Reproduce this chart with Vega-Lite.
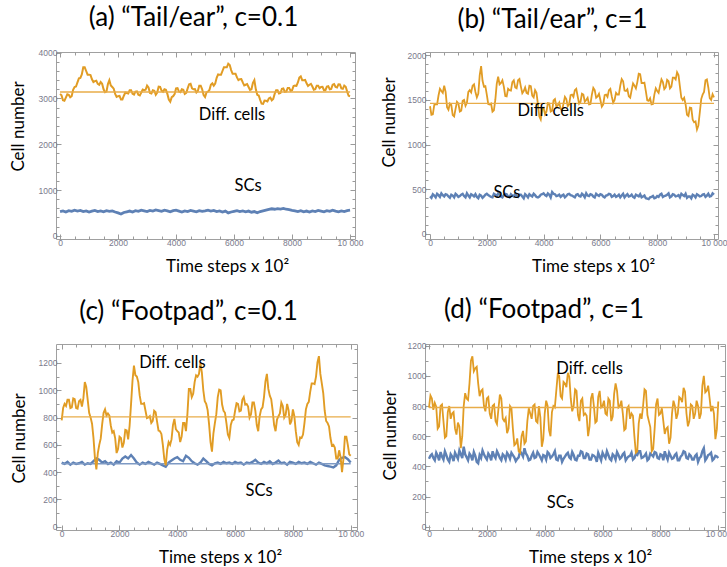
{
"$schema": "https://vega.github.io/schema/vega-lite/v6.json",
"padding": {"left": 8, "top": 4, "right": 0, "bottom": 0},
"background": "white",
"config": {
  "font": "Lato",
  "view": {"stroke": "#a0a0a0", "strokeWidth": 1},
  "axis": {"domain": false, "grid": false, "labelFont": "Liberation Sans", "labelFontSize": 8.5, "labelColor": "#7a7a8c", "labelFlush": false, "tickColor": "#9a9a9a", "tickSize": {"condition": {"test": "datum.value % 2000 === 0", "value": -5}, "value": -3}, "labelPadding": 4, "titleFont": "Lato", "titleFontSize": 17, "titleFontWeight": "normal", "titleColor": "#000", "format": "d"},
  "title": {"font": "Lato", "fontSize": 26, "fontWeight": "normal", "color": "#000", "baseline": "alphabetic"}
},
"datasets": {
"aD": [{"t":0,"v":3100},{"t":100,"v":2960},{"t":200,"v":3020},{"t":300,"v":3080},{"t":400,"v":3050},{"t":500,"v":3250},{"t":600,"v":3350},{"t":700,"v":3450},{"t":800,"v":3680},{"t":900,"v":3600},{"t":1000,"v":3520},{"t":1100,"v":3420},{"t":1200,"v":3380},{"t":1300,"v":3320},{"t":1400,"v":3360},{"t":1500,"v":3200},{"t":1600,"v":3150},{"t":1700,"v":3400},{"t":1800,"v":3250},{"t":1900,"v":3100},{"t":2000,"v":3050},{"t":2100,"v":2980},{"t":2200,"v":3060},{"t":2300,"v":3120},{"t":2400,"v":3180},{"t":2500,"v":3100},{"t":2600,"v":3150},{"t":2700,"v":3080},{"t":2800,"v":3130},{"t":2900,"v":3180},{"t":3000,"v":3280},{"t":3100,"v":3120},{"t":3200,"v":3180},{"t":3300,"v":3080},{"t":3400,"v":3260},{"t":3500,"v":3170},{"t":3600,"v":3200},{"t":3700,"v":3100},{"t":3800,"v":2930},{"t":3900,"v":3050},{"t":4000,"v":3220},{"t":4100,"v":3150},{"t":4200,"v":3200},{"t":4300,"v":3100},{"t":4400,"v":3220},{"t":4500,"v":3320},{"t":4600,"v":3200},{"t":4700,"v":3130},{"t":4800,"v":3280},{"t":4900,"v":3200},{"t":5000,"v":3030},{"t":5100,"v":3150},{"t":5200,"v":3300},{"t":5300,"v":3280},{"t":5400,"v":3450},{"t":5500,"v":3520},{"t":5600,"v":3600},{"t":5700,"v":3680},{"t":5800,"v":3760},{"t":5900,"v":3620},{"t":6000,"v":3540},{"t":6100,"v":3460},{"t":6200,"v":3420},{"t":6300,"v":3350},{"t":6400,"v":3300},{"t":6500,"v":3250},{"t":6600,"v":3200},{"t":6700,"v":3400},{"t":6800,"v":3080},{"t":6900,"v":2970},{"t":7000,"v":2880},{"t":7100,"v":2950},{"t":7200,"v":3000},{"t":7300,"v":2960},{"t":7400,"v":3100},{"t":7500,"v":3180},{"t":7600,"v":3120},{"t":7700,"v":3220},{"t":7800,"v":3150},{"t":7900,"v":3230},{"t":8000,"v":3180},{"t":8100,"v":3280},{"t":8200,"v":3350},{"t":8300,"v":3480},{"t":8400,"v":3400},{"t":8500,"v":3330},{"t":8600,"v":3300},{"t":8700,"v":3260},{"t":8800,"v":3200},{"t":8900,"v":3280},{"t":9000,"v":3250},{"t":9100,"v":3180},{"t":9200,"v":3260},{"t":9300,"v":3200},{"t":9400,"v":3300},{"t":9500,"v":3250},{"t":9600,"v":3310},{"t":9700,"v":3220},{"t":9800,"v":3280},{"t":9900,"v":3150},{"t":10000,"v":3050},
{"t":50,"v":3070},{"t":150,"v":2950},{"t":250,"v":3090},{"t":350,"v":3025},{"t":450,"v":3190},{"t":550,"v":3260},{"t":650,"v":3440},{"t":750,"v":3525},{"t":850,"v":3680},{"t":950,"v":3520},{"t":1050,"v":3510},{"t":1150,"v":3360},{"t":1250,"v":3390},{"t":1350,"v":3300},{"t":1450,"v":3320},{"t":1550,"v":3135},{"t":1650,"v":3315},{"t":1750,"v":3285},{"t":1850,"v":3215},{"t":1950,"v":3035},{"t":2050,"v":3055},{"t":2150,"v":2980},{"t":2250,"v":3130},{"t":2350,"v":3110},{"t":2450,"v":3180},{"t":2550,"v":3085},{"t":2650,"v":3155},{"t":2750,"v":3065},{"t":2850,"v":3195},{"t":2950,"v":3190},{"t":3050,"v":3240},{"t":3150,"v":3110},{"t":3250,"v":3170},{"t":3350,"v":3130},{"t":3450,"v":3255},{"t":3550,"v":3145},{"t":3650,"v":3190},{"t":3750,"v":2975},{"t":3850,"v":3030},{"t":3950,"v":3095},{"t":4050,"v":3225},{"t":4150,"v":3135},{"t":4250,"v":3190},{"t":4350,"v":3120},{"t":4450,"v":3310},{"t":4550,"v":3220},{"t":4650,"v":3205},{"t":4750,"v":3165},{"t":4850,"v":3280},{"t":4950,"v":3075},{"t":5050,"v":3130},{"t":5150,"v":3185},{"t":5250,"v":3330},{"t":5350,"v":3325},{"t":5450,"v":3525},{"t":5550,"v":3520},{"t":5650,"v":3680},{"t":5750,"v":3680},{"t":5850,"v":3730},{"t":5950,"v":3540},{"t":6050,"v":3540},{"t":6150,"v":3400},{"t":6250,"v":3425},{"t":6350,"v":3285},{"t":6450,"v":3315},{"t":6550,"v":3185},{"t":6650,"v":3340},{"t":6750,"v":3200},{"t":6850,"v":3065},{"t":6950,"v":2885},{"t":7050,"v":2955},{"t":7150,"v":2935},{"t":7250,"v":3020},{"t":7350,"v":2990},{"t":7450,"v":3180},{"t":7550,"v":3110},{"t":7650,"v":3210},{"t":7750,"v":3145},{"t":7850,"v":3230},{"t":7950,"v":3165},{"t":8050,"v":3270},{"t":8150,"v":3275},{"t":8250,"v":3455},{"t":8350,"v":3400},{"t":8450,"v":3405},{"t":8550,"v":3275},{"t":8650,"v":3320},{"t":8750,"v":3190},{"t":8850,"v":3280},{"t":8950,"v":3225},{"t":9050,"v":3255},{"t":9150,"v":3180},{"t":9250,"v":3270},{"t":9350,"v":3210},{"t":9450,"v":3315},{"t":9550,"v":3240},{"t":9650,"v":3305},{"t":9750,"v":3210},{"t":9850,"v":3255},{"t":9950,"v":3060}],
"aS": [{"t":0,"v":530},{"t":100,"v":545},{"t":200,"v":520},{"t":300,"v":550},{"t":400,"v":535},{"t":500,"v":560},{"t":600,"v":540},{"t":700,"v":555},{"t":800,"v":530},{"t":900,"v":545},{"t":1000,"v":520},{"t":1100,"v":540},{"t":1200,"v":555},{"t":1300,"v":530},{"t":1400,"v":545},{"t":1500,"v":525},{"t":1600,"v":550},{"t":1700,"v":535},{"t":1800,"v":545},{"t":1900,"v":520},{"t":2000,"v":500},{"t":2100,"v":475},{"t":2200,"v":510},{"t":2300,"v":525},{"t":2400,"v":540},{"t":2500,"v":520},{"t":2600,"v":550},{"t":2700,"v":535},{"t":2800,"v":560},{"t":2900,"v":545},{"t":3000,"v":530},{"t":3100,"v":555},{"t":3200,"v":540},{"t":3300,"v":565},{"t":3400,"v":550},{"t":3500,"v":535},{"t":3600,"v":560},{"t":3700,"v":545},{"t":3800,"v":525},{"t":3900,"v":550},{"t":4000,"v":560},{"t":4100,"v":540},{"t":4200,"v":520},{"t":4300,"v":545},{"t":4400,"v":530},{"t":4500,"v":555},{"t":4600,"v":540},{"t":4700,"v":525},{"t":4800,"v":550},{"t":4900,"v":535},{"t":5000,"v":545},{"t":5100,"v":560},{"t":5200,"v":540},{"t":5300,"v":555},{"t":5400,"v":530},{"t":5500,"v":545},{"t":5600,"v":520},{"t":5700,"v":540},{"t":5800,"v":500},{"t":5900,"v":520},{"t":6000,"v":535},{"t":6100,"v":550},{"t":6200,"v":530},{"t":6300,"v":545},{"t":6400,"v":525},{"t":6500,"v":540},{"t":6600,"v":515},{"t":6700,"v":530},{"t":6800,"v":505},{"t":6900,"v":530},{"t":7000,"v":545},{"t":7100,"v":560},{"t":7200,"v":575},{"t":7300,"v":590},{"t":7400,"v":580},{"t":7500,"v":595},{"t":7600,"v":585},{"t":7700,"v":600},{"t":7800,"v":580},{"t":7900,"v":570},{"t":8000,"v":555},{"t":8100,"v":545},{"t":8200,"v":530},{"t":8300,"v":550},{"t":8400,"v":525},{"t":8500,"v":540},{"t":8600,"v":520},{"t":8700,"v":545},{"t":8800,"v":530},{"t":8900,"v":555},{"t":9000,"v":540},{"t":9100,"v":525},{"t":9200,"v":550},{"t":9300,"v":535},{"t":9400,"v":560},{"t":9500,"v":540},{"t":9600,"v":525},{"t":9700,"v":545},{"t":9800,"v":530},{"t":9900,"v":550},{"t":10000,"v":560}],
"bD": [{"t":0,"v":1430},{"t":100,"v":1340},{"t":200,"v":1450},{"t":300,"v":1550},{"t":400,"v":1600},{"t":500,"v":1660},{"t":600,"v":1420},{"t":700,"v":1460},{"t":800,"v":1330},{"t":900,"v":1400},{"t":1000,"v":1460},{"t":1100,"v":1380},{"t":1200,"v":1500},{"t":1300,"v":1470},{"t":1400,"v":1610},{"t":1500,"v":1660},{"t":1600,"v":1590},{"t":1700,"v":1570},{"t":1800,"v":1880},{"t":1900,"v":1650},{"t":2000,"v":1560},{"t":2100,"v":1450},{"t":2200,"v":1370},{"t":2300,"v":1500},{"t":2400,"v":1760},{"t":2500,"v":1690},{"t":2600,"v":1650},{"t":2700,"v":1540},{"t":2800,"v":1610},{"t":2900,"v":1700},{"t":3000,"v":1640},{"t":3100,"v":1720},{"t":3200,"v":1650},{"t":3300,"v":1600},{"t":3400,"v":1580},{"t":3500,"v":1660},{"t":3600,"v":1550},{"t":3700,"v":1610},{"t":3800,"v":1450},{"t":3900,"v":1280},{"t":4000,"v":1410},{"t":4100,"v":1370},{"t":4200,"v":1460},{"t":4300,"v":1380},{"t":4400,"v":1510},{"t":4500,"v":1440},{"t":4600,"v":1400},{"t":4700,"v":1460},{"t":4800,"v":1510},{"t":4900,"v":1450},{"t":5000,"v":1560},{"t":5100,"v":1610},{"t":5200,"v":1540},{"t":5300,"v":1480},{"t":5400,"v":1560},{"t":5500,"v":1500},{"t":5600,"v":1450},{"t":5700,"v":1560},{"t":5800,"v":1610},{"t":5900,"v":1540},{"t":6000,"v":1500},{"t":6100,"v":1450},{"t":6200,"v":1560},{"t":6300,"v":1610},{"t":6400,"v":1540},{"t":6500,"v":1500},{"t":6600,"v":1560},{"t":6700,"v":1660},{"t":6800,"v":1710},{"t":6900,"v":1600},{"t":7000,"v":1540},{"t":7100,"v":1610},{"t":7200,"v":1660},{"t":7300,"v":1700},{"t":7400,"v":1790},{"t":7500,"v":1690},{"t":7600,"v":1600},{"t":7700,"v":1490},{"t":7800,"v":1450},{"t":7900,"v":1560},{"t":8000,"v":1600},{"t":8100,"v":1660},{"t":8200,"v":1700},{"t":8300,"v":1640},{"t":8400,"v":1710},{"t":8500,"v":1650},{"t":8600,"v":1750},{"t":8700,"v":1810},{"t":8800,"v":1650},{"t":8900,"v":1500},{"t":9000,"v":1450},{"t":9100,"v":1320},{"t":9200,"v":1410},{"t":9300,"v":1250},{"t":9400,"v":1170},{"t":9500,"v":1360},{"t":9600,"v":1560},{"t":9700,"v":1720},{"t":9800,"v":1640},{"t":9900,"v":1500},{"t":10000,"v":1530},
{"t":50,"v":1335},{"t":150,"v":1445},{"t":250,"v":1450},{"t":350,"v":1625},{"t":450,"v":1580},{"t":550,"v":1590},{"t":650,"v":1390},{"t":750,"v":1445},{"t":850,"v":1315},{"t":950,"v":1480},{"t":1050,"v":1370},{"t":1150,"v":1490},{"t":1250,"v":1435},{"t":1350,"v":1590},{"t":1450,"v":1585},{"t":1550,"v":1675},{"t":1650,"v":1530},{"t":1750,"v":1775},{"t":1850,"v":1715},{"t":1950,"v":1655},{"t":2050,"v":1455},{"t":2150,"v":1460},{"t":2250,"v":1385},{"t":2350,"v":1680},{"t":2450,"v":1675},{"t":2550,"v":1720},{"t":2650,"v":1545},{"t":2750,"v":1625},{"t":2850,"v":1605},{"t":2950,"v":1720},{"t":3050,"v":1630},{"t":3150,"v":1735},{"t":3250,"v":1575},{"t":3350,"v":1640},{"t":3450,"v":1570},{"t":3550,"v":1655},{"t":3650,"v":1530},{"t":3750,"v":1580},{"t":3850,"v":1315},{"t":3950,"v":1395},{"t":4050,"v":1340},{"t":4150,"v":1465},{"t":4250,"v":1370},{"t":4350,"v":1495},{"t":4450,"v":1425},{"t":4550,"v":1470},{"t":4650,"v":1380},{"t":4750,"v":1535},{"t":4850,"v":1430},{"t":4950,"v":1555},{"t":5050,"v":1535},{"t":5150,"v":1625},{"t":5250,"v":1460},{"t":5350,"v":1570},{"t":5450,"v":1480},{"t":5550,"v":1525},{"t":5650,"v":1455},{"t":5750,"v":1635},{"t":5850,"v":1525},{"t":5950,"v":1570},{"t":6050,"v":1425},{"t":6150,"v":1555},{"t":6250,"v":1535},{"t":6350,"v":1625},{"t":6450,"v":1470},{"t":6550,"v":1580},{"t":6650,"v":1560},{"t":6750,"v":1735},{"t":6850,"v":1605},{"t":6950,"v":1620},{"t":7050,"v":1525},{"t":7150,"v":1685},{"t":7250,"v":1630},{"t":7350,"v":1795},{"t":7450,"v":1690},{"t":7550,"v":1695},{"t":7650,"v":1495},{"t":7750,"v":1520},{"t":7850,"v":1455},{"t":7950,"v":1630},{"t":8050,"v":1580},{"t":8150,"v":1730},{"t":8250,"v":1620},{"t":8350,"v":1725},{"t":8450,"v":1630},{"t":8550,"v":1750},{"t":8650,"v":1730},{"t":8750,"v":1780},{"t":8850,"v":1525},{"t":8950,"v":1525},{"t":9050,"v":1335},{"t":9150,"v":1415},{"t":9250,"v":1280},{"t":9350,"v":1260},{"t":9450,"v":1215},{"t":9550,"v":1510},{"t":9650,"v":1590},{"t":9750,"v":1730},{"t":9850,"v":1520},{"t":9950,"v":1565}],
"bS": [{"t":0,"v":420},{"t":100,"v":445},{"t":200,"v":410},{"t":300,"v":435},{"t":400,"v":455},{"t":500,"v":420},{"t":600,"v":440},{"t":700,"v":405},{"t":800,"v":430},{"t":900,"v":450},{"t":1000,"v":415},{"t":1100,"v":440},{"t":1200,"v":425},{"t":1300,"v":455},{"t":1400,"v":410},{"t":1500,"v":435},{"t":1600,"v":445},{"t":1700,"v":400},{"t":1800,"v":430},{"t":1900,"v":420},{"t":2000,"v":450},{"t":2100,"v":425},{"t":2200,"v":410},{"t":2300,"v":440},{"t":2400,"v":455},{"t":2500,"v":420},{"t":2600,"v":435},{"t":2700,"v":445},{"t":2800,"v":410},{"t":2900,"v":430},{"t":3000,"v":450},{"t":3100,"v":415},{"t":3200,"v":440},{"t":3300,"v":400},{"t":3400,"v":430},{"t":3500,"v":445},{"t":3600,"v":420},{"t":3700,"v":435},{"t":3800,"v":410},{"t":3900,"v":440},{"t":4000,"v":455},{"t":4100,"v":425},{"t":4200,"v":440},{"t":4300,"v":470},{"t":4400,"v":445},{"t":4500,"v":430},{"t":4600,"v":415},{"t":4700,"v":440},{"t":4800,"v":425},{"t":4900,"v":450},{"t":5000,"v":430},{"t":5100,"v":410},{"t":5200,"v":445},{"t":5300,"v":420},{"t":5400,"v":435},{"t":5500,"v":455},{"t":5600,"v":425},{"t":5700,"v":440},{"t":5800,"v":410},{"t":5900,"v":435},{"t":6000,"v":445},{"t":6100,"v":420},{"t":6200,"v":430},{"t":6300,"v":450},{"t":6400,"v":415},{"t":6500,"v":440},{"t":6600,"v":425},{"t":6700,"v":410},{"t":6800,"v":450},{"t":6900,"v":430},{"t":7000,"v":420},{"t":7100,"v":440},{"t":7200,"v":405},{"t":7300,"v":430},{"t":7400,"v":445},{"t":7500,"v":420},{"t":7600,"v":400},{"t":7700,"v":390},{"t":7800,"v":415},{"t":7900,"v":400},{"t":8000,"v":425},{"t":8100,"v":440},{"t":8200,"v":415},{"t":8300,"v":430},{"t":8400,"v":455},{"t":8500,"v":420},{"t":8600,"v":440},{"t":8700,"v":425},{"t":8800,"v":410},{"t":8900,"v":435},{"t":9000,"v":450},{"t":9100,"v":420},{"t":9200,"v":400},{"t":9300,"v":430},{"t":9400,"v":445},{"t":9500,"v":420},{"t":9600,"v":440},{"t":9700,"v":415},{"t":9800,"v":450},{"t":9900,"v":425},{"t":10000,"v":440},
{"t":50,"v":405},{"t":150,"v":430},{"t":250,"v":450},{"t":350,"v":415},{"t":450,"v":435},{"t":550,"v":445},{"t":650,"v":420},{"t":750,"v":440},{"t":850,"v":410},{"t":950,"v":435},{"t":1050,"v":425},{"t":1150,"v":450},{"t":1250,"v":410},{"t":1350,"v":430},{"t":1450,"v":445},{"t":1550,"v":420},{"t":1650,"v":415},{"t":1750,"v":440},{"t":1850,"v":405},{"t":1950,"v":440},{"t":2050,"v":435},{"t":2150,"v":415},{"t":2250,"v":450},{"t":2350,"v":425},{"t":2450,"v":440},{"t":2550,"v":410},{"t":2650,"v":450},{"t":2750,"v":420},{"t":2850,"v":445},{"t":2950,"v":420},{"t":3050,"v":425},{"t":3150,"v":440},{"t":3250,"v":420},{"t":3350,"v":445},{"t":3450,"v":410},{"t":3550,"v":430},{"t":3650,"v":450},{"t":3750,"v":415},{"t":3850,"v":420},{"t":3950,"v":445},{"t":4050,"v":435},{"t":4150,"v":455},{"t":4250,"v":410},{"t":4350,"v":450},{"t":4450,"v":425},{"t":4550,"v":440},{"t":4650,"v":430},{"t":4750,"v":410},{"t":4850,"v":445},{"t":4950,"v":435},{"t":5050,"v":420},{"t":5150,"v":440},{"t":5250,"v":425},{"t":5350,"v":450},{"t":5450,"v":410},{"t":5550,"v":430},{"t":5650,"v":445},{"t":5750,"v":420},{"t":5850,"v":450},{"t":5950,"v":425},{"t":6050,"v":440},{"t":6150,"v":410},{"t":6250,"v":435},{"t":6350,"v":445},{"t":6450,"v":425},{"t":6550,"v":415},{"t":6650,"v":440},{"t":6750,"v":430},{"t":6850,"v":410},{"t":6950,"v":445},{"t":7050,"v":425},{"t":7150,"v":415},{"t":7250,"v":440},{"t":7350,"v":420},{"t":7450,"v":410},{"t":7550,"v":430},{"t":7650,"v":395},{"t":7750,"v":410},{"t":7850,"v":425},{"t":7950,"v":405},{"t":8050,"v":415},{"t":8150,"v":450},{"t":8250,"v":425},{"t":8350,"v":440},{"t":8450,"v":410},{"t":8550,"v":445},{"t":8650,"v":420},{"t":8750,"v":435},{"t":8850,"v":450},{"t":8950,"v":425},{"t":9050,"v":405},{"t":9150,"v":420},{"t":9250,"v":440},{"t":9350,"v":410},{"t":9450,"v":435},{"t":9550,"v":425},{"t":9650,"v":445},{"t":9750,"v":430},{"t":9850,"v":420},{"t":9950,"v":455}],
"cD": [{"t":0,"v":780},{"t":100,"v":900},{"t":200,"v":930},{"t":300,"v":870},{"t":400,"v":940},{"t":500,"v":870},{"t":600,"v":920},{"t":700,"v":880},{"t":800,"v":1060},{"t":900,"v":930},{"t":1000,"v":800},{"t":1100,"v":650},{"t":1200,"v":420},{"t":1300,"v":600},{"t":1400,"v":750},{"t":1500,"v":860},{"t":1600,"v":830},{"t":1700,"v":740},{"t":1800,"v":700},{"t":1900,"v":540},{"t":2000,"v":660},{"t":2100,"v":580},{"t":2200,"v":710},{"t":2300,"v":640},{"t":2400,"v":900},{"t":2500,"v":1180},{"t":2600,"v":1100},{"t":2700,"v":960},{"t":2800,"v":900},{"t":2900,"v":850},{"t":3000,"v":800},{"t":3100,"v":760},{"t":3200,"v":850},{"t":3300,"v":770},{"t":3400,"v":700},{"t":3500,"v":600},{"t":3600,"v":450},{"t":3700,"v":620},{"t":3800,"v":640},{"t":3900,"v":790},{"t":4000,"v":700},{"t":4100,"v":620},{"t":4200,"v":760},{"t":4300,"v":700},{"t":4400,"v":1010},{"t":4500,"v":950},{"t":4600,"v":1060},{"t":4700,"v":1100},{"t":4800,"v":1200},{"t":4900,"v":1000},{"t":5000,"v":900},{"t":5100,"v":750},{"t":5200,"v":550},{"t":5300,"v":760},{"t":5400,"v":950},{"t":5500,"v":1000},{"t":5600,"v":850},{"t":5700,"v":760},{"t":5800,"v":650},{"t":5900,"v":780},{"t":6000,"v":850},{"t":6100,"v":900},{"t":6200,"v":850},{"t":6300,"v":950},{"t":6400,"v":900},{"t":6500,"v":800},{"t":6600,"v":910},{"t":6700,"v":850},{"t":6800,"v":700},{"t":6900,"v":860},{"t":7000,"v":950},{"t":7100,"v":1120},{"t":7200,"v":960},{"t":7300,"v":850},{"t":7400,"v":700},{"t":7500,"v":810},{"t":7600,"v":910},{"t":7700,"v":800},{"t":7800,"v":900},{"t":7900,"v":750},{"t":8000,"v":860},{"t":8100,"v":700},{"t":8200,"v":600},{"t":8300,"v":650},{"t":8400,"v":760},{"t":8500,"v":900},{"t":8600,"v":990},{"t":8700,"v":1050},{"t":8800,"v":1100},{"t":8900,"v":1250},{"t":9000,"v":1050},{"t":9100,"v":850},{"t":9200,"v":760},{"t":9300,"v":650},{"t":9400,"v":600},{"t":9500,"v":500},{"t":9600,"v":560},{"t":9700,"v":400},{"t":9800,"v":660},{"t":9900,"v":600},{"t":10000,"v":520},
{"t":50,"v":870},{"t":150,"v":885},{"t":250,"v":930},{"t":350,"v":875},{"t":450,"v":935},{"t":550,"v":865},{"t":650,"v":930},{"t":750,"v":940},{"t":850,"v":1025},{"t":950,"v":835},{"t":1050,"v":755},{"t":1150,"v":505},{"t":1250,"v":540},{"t":1350,"v":645},{"t":1450,"v":835},{"t":1550,"v":815},{"t":1650,"v":815},{"t":1750,"v":690},{"t":1850,"v":650},{"t":1950,"v":570},{"t":2050,"v":650},{"t":2150,"v":615},{"t":2250,"v":705},{"t":2350,"v":740},{"t":2450,"v":1070},{"t":2550,"v":1110},{"t":2650,"v":1060},{"t":2750,"v":900},{"t":2850,"v":905},{"t":2950,"v":795},{"t":3050,"v":810},{"t":3150,"v":775},{"t":3250,"v":840},{"t":3350,"v":705},{"t":3450,"v":680},{"t":3550,"v":495},{"t":3650,"v":565},{"t":3750,"v":600},{"t":3850,"v":745},{"t":3950,"v":715},{"t":4050,"v":690},{"t":4150,"v":660},{"t":4250,"v":760},{"t":4350,"v":825},{"t":4450,"v":1010},{"t":4550,"v":975},{"t":4650,"v":1110},{"t":4750,"v":1120},{"t":4850,"v":1130},{"t":4950,"v":920},{"t":5050,"v":855},{"t":5150,"v":620},{"t":5250,"v":685},{"t":5350,"v":825},{"t":5450,"v":1005},{"t":5550,"v":895},{"t":5650,"v":835},{"t":5750,"v":675},{"t":5850,"v":745},{"t":5950,"v":785},{"t":6050,"v":905},{"t":6150,"v":845},{"t":6250,"v":930},{"t":6350,"v":895},{"t":6450,"v":880},{"t":6550,"v":825},{"t":6650,"v":910},{"t":6750,"v":745},{"t":6850,"v":810},{"t":6950,"v":875},{"t":7050,"v":1065},{"t":7150,"v":1010},{"t":7250,"v":935},{"t":7350,"v":745},{"t":7450,"v":785},{"t":7550,"v":830},{"t":7650,"v":885},{"t":7750,"v":820},{"t":7850,"v":855},{"t":7950,"v":775},{"t":8050,"v":810},{"t":8150,"v":620},{"t":8250,"v":655},{"t":8350,"v":675},{"t":8450,"v":860},{"t":8550,"v":915},{"t":8650,"v":1050},{"t":8750,"v":1045},{"t":8850,"v":1205},{"t":8950,"v":1120},{"t":9050,"v":980},{"t":9150,"v":775},{"t":9250,"v":735},{"t":9350,"v":595},{"t":9450,"v":580},{"t":9550,"v":500},{"t":9650,"v":510},{"t":9750,"v":500},{"t":9850,"v":660},{"t":9950,"v":530}],
"cS": [{"t":0,"v":470},{"t":100,"v":460},{"t":200,"v":475},{"t":300,"v":455},{"t":400,"v":470},{"t":500,"v":460},{"t":600,"v":465},{"t":700,"v":475},{"t":800,"v":455},{"t":900,"v":465},{"t":1000,"v":460},{"t":1100,"v":480},{"t":1200,"v":500},{"t":1300,"v":490},{"t":1400,"v":470},{"t":1500,"v":480},{"t":1600,"v":460},{"t":1700,"v":470},{"t":1800,"v":455},{"t":1900,"v":480},{"t":2000,"v":470},{"t":2100,"v":500},{"t":2200,"v":515},{"t":2300,"v":500},{"t":2400,"v":525},{"t":2500,"v":500},{"t":2600,"v":470},{"t":2700,"v":455},{"t":2800,"v":470},{"t":2900,"v":460},{"t":3000,"v":475},{"t":3100,"v":465},{"t":3200,"v":455},{"t":3300,"v":470},{"t":3400,"v":460},{"t":3500,"v":450},{"t":3600,"v":440},{"t":3700,"v":470},{"t":3800,"v":485},{"t":3900,"v":500},{"t":4000,"v":510},{"t":4100,"v":490},{"t":4200,"v":480},{"t":4300,"v":520},{"t":4400,"v":505},{"t":4500,"v":480},{"t":4600,"v":465},{"t":4700,"v":455},{"t":4800,"v":470},{"t":4900,"v":500},{"t":5000,"v":480},{"t":5100,"v":460},{"t":5200,"v":450},{"t":5300,"v":465},{"t":5400,"v":470},{"t":5500,"v":460},{"t":5600,"v":475},{"t":5700,"v":465},{"t":5800,"v":470},{"t":5900,"v":460},{"t":6000,"v":475},{"t":6100,"v":465},{"t":6200,"v":470},{"t":6300,"v":455},{"t":6400,"v":470},{"t":6500,"v":465},{"t":6600,"v":475},{"t":6700,"v":490},{"t":6800,"v":470},{"t":6900,"v":460},{"t":7000,"v":475},{"t":7100,"v":465},{"t":7200,"v":480},{"t":7300,"v":460},{"t":7400,"v":470},{"t":7500,"v":485},{"t":7600,"v":465},{"t":7700,"v":470},{"t":7800,"v":455},{"t":7900,"v":475},{"t":8000,"v":470},{"t":8100,"v":460},{"t":8200,"v":475},{"t":8300,"v":465},{"t":8400,"v":470},{"t":8500,"v":460},{"t":8600,"v":475},{"t":8700,"v":465},{"t":8800,"v":455},{"t":8900,"v":470},{"t":9000,"v":460},{"t":9100,"v":450},{"t":9200,"v":445},{"t":9300,"v":440},{"t":9400,"v":435},{"t":9500,"v":450},{"t":9600,"v":490},{"t":9700,"v":505},{"t":9800,"v":510},{"t":9900,"v":495},{"t":10000,"v":470}],
"dD": [{"t":0,"v":790},{"t":100,"v":850},{"t":200,"v":820},{"t":300,"v":650},{"t":400,"v":800},{"t":500,"v":700},{"t":600,"v":600},{"t":700,"v":800},{"t":800,"v":750},{"t":900,"v":650},{"t":1000,"v":690},{"t":1100,"v":520},{"t":1200,"v":800},{"t":1300,"v":850},{"t":1400,"v":950},{"t":1500,"v":1130},{"t":1600,"v":1050},{"t":1700,"v":950},{"t":1800,"v":900},{"t":1900,"v":800},{"t":2000,"v":850},{"t":2100,"v":750},{"t":2200,"v":800},{"t":2300,"v":700},{"t":2400,"v":780},{"t":2500,"v":850},{"t":2600,"v":700},{"t":2700,"v":620},{"t":2800,"v":800},{"t":2900,"v":650},{"t":3000,"v":550},{"t":3100,"v":500},{"t":3200,"v":600},{"t":3300,"v":550},{"t":3400,"v":700},{"t":3500,"v":750},{"t":3600,"v":800},{"t":3700,"v":700},{"t":3800,"v":800},{"t":3900,"v":530},{"t":4000,"v":750},{"t":4100,"v":800},{"t":4200,"v":600},{"t":4300,"v":800},{"t":4400,"v":900},{"t":4500,"v":1000},{"t":4600,"v":850},{"t":4700,"v":950},{"t":4800,"v":1020},{"t":4900,"v":850},{"t":5000,"v":800},{"t":5100,"v":900},{"t":5200,"v":700},{"t":5300,"v":850},{"t":5400,"v":750},{"t":5500,"v":600},{"t":5600,"v":850},{"t":5700,"v":800},{"t":5800,"v":700},{"t":5900,"v":900},{"t":6000,"v":800},{"t":6100,"v":750},{"t":6200,"v":850},{"t":6300,"v":700},{"t":6400,"v":880},{"t":6500,"v":900},{"t":6600,"v":800},{"t":6700,"v":750},{"t":6800,"v":650},{"t":6900,"v":800},{"t":7000,"v":750},{"t":7100,"v":600},{"t":7200,"v":500},{"t":7300,"v":750},{"t":7400,"v":800},{"t":7500,"v":900},{"t":7600,"v":700},{"t":7700,"v":500},{"t":7800,"v":650},{"t":7900,"v":850},{"t":8000,"v":750},{"t":8100,"v":700},{"t":8200,"v":650},{"t":8300,"v":550},{"t":8400,"v":750},{"t":8500,"v":800},{"t":8600,"v":750},{"t":8700,"v":850},{"t":8800,"v":920},{"t":8900,"v":750},{"t":9000,"v":700},{"t":9100,"v":800},{"t":9200,"v":750},{"t":9300,"v":800},{"t":9400,"v":750},{"t":9500,"v":1000},{"t":9600,"v":900},{"t":9700,"v":850},{"t":9800,"v":800},{"t":9900,"v":580},{"t":10000,"v":830},
{"t":50,"v":870},{"t":150,"v":775},{"t":250,"v":795},{"t":350,"v":665},{"t":450,"v":810},{"t":550,"v":590},{"t":650,"v":760},{"t":750,"v":715},{"t":850,"v":760},{"t":950,"v":610},{"t":1050,"v":665},{"t":1150,"v":600},{"t":1250,"v":885},{"t":1350,"v":840},{"t":1450,"v":1100},{"t":1550,"v":1030},{"t":1650,"v":1060},{"t":1750,"v":865},{"t":1850,"v":910},{"t":1950,"v":765},{"t":2050,"v":860},{"t":2150,"v":715},{"t":2250,"v":810},{"t":2350,"v":680},{"t":2450,"v":875},{"t":2550,"v":715},{"t":2650,"v":720},{"t":2750,"v":650},{"t":2850,"v":785},{"t":2950,"v":540},{"t":3050,"v":585},{"t":3150,"v":490},{"t":3250,"v":635},{"t":3350,"v":565},{"t":3450,"v":785},{"t":3550,"v":715},{"t":3650,"v":810},{"t":3750,"v":690},{"t":3850,"v":725},{"t":3950,"v":580},{"t":4050,"v":835},{"t":4150,"v":640},{"t":4250,"v":760},{"t":4350,"v":790},{"t":4450,"v":1010},{"t":4550,"v":865},{"t":4650,"v":960},{"t":4750,"v":925},{"t":4850,"v":995},{"t":4950,"v":765},{"t":5050,"v":910},{"t":5150,"v":740},{"t":5250,"v":835},{"t":5350,"v":740},{"t":5450,"v":735},{"t":5550,"v":665},{"t":5650,"v":885},{"t":5750,"v":690},{"t":5850,"v":860},{"t":5950,"v":790},{"t":6050,"v":835},{"t":6150,"v":740},{"t":6250,"v":835},{"t":6350,"v":730},{"t":6450,"v":950},{"t":6550,"v":790},{"t":6650,"v":835},{"t":6750,"v":640},{"t":6850,"v":785},{"t":6950,"v":715},{"t":7050,"v":735},{"t":7150,"v":490},{"t":7250,"v":685},{"t":7350,"v":715},{"t":7450,"v":910},{"t":7550,"v":740},{"t":7650,"v":660},{"t":7750,"v":515},{"t":7850,"v":810},{"t":7950,"v":740},{"t":8050,"v":785},{"t":8150,"v":615},{"t":8250,"v":660},{"t":8350,"v":590},{"t":8450,"v":835},{"t":8550,"v":715},{"t":8650,"v":860},{"t":8750,"v":825},{"t":8850,"v":895},{"t":8950,"v":665},{"t":9050,"v":810},{"t":9150,"v":715},{"t":9250,"v":835},{"t":9350,"v":715},{"t":9450,"v":935},{"t":9550,"v":890},{"t":9650,"v":935},{"t":9750,"v":765},{"t":9850,"v":750},{"t":9950,"v":645}],
"dS": [{"t":0,"v":450},{"t":100,"v":480},{"t":200,"v":440},{"t":300,"v":470},{"t":400,"v":495},{"t":500,"v":445},{"t":600,"v":475},{"t":700,"v":430},{"t":800,"v":465},{"t":900,"v":490},{"t":1000,"v":450},{"t":1100,"v":480},{"t":1200,"v":530},{"t":1300,"v":460},{"t":1400,"v":485},{"t":1500,"v":440},{"t":1600,"v":470},{"t":1700,"v":420},{"t":1800,"v":455},{"t":1900,"v":480},{"t":2000,"v":445},{"t":2100,"v":470},{"t":2200,"v":500},{"t":2300,"v":455},{"t":2400,"v":480},{"t":2500,"v":440},{"t":2600,"v":470},{"t":2700,"v":490},{"t":2800,"v":450},{"t":2900,"v":475},{"t":3000,"v":435},{"t":3100,"v":460},{"t":3200,"v":485},{"t":3300,"v":520},{"t":3400,"v":470},{"t":3500,"v":445},{"t":3600,"v":490},{"t":3700,"v":460},{"t":3800,"v":480},{"t":3900,"v":440},{"t":4000,"v":470},{"t":4100,"v":495},{"t":4200,"v":455},{"t":4300,"v":480},{"t":4400,"v":445},{"t":4500,"v":470},{"t":4600,"v":430},{"t":4700,"v":465},{"t":4800,"v":490},{"t":4900,"v":450},{"t":5000,"v":475},{"t":5100,"v":440},{"t":5200,"v":470},{"t":5300,"v":495},{"t":5400,"v":455},{"t":5500,"v":480},{"t":5600,"v":445},{"t":5700,"v":470},{"t":5800,"v":430},{"t":5900,"v":465},{"t":6000,"v":490},{"t":6100,"v":455},{"t":6200,"v":475},{"t":6300,"v":440},{"t":6400,"v":470},{"t":6500,"v":495},{"t":6600,"v":450},{"t":6700,"v":480},{"t":6800,"v":440},{"t":6900,"v":465},{"t":7000,"v":490},{"t":7100,"v":455},{"t":7200,"v":475},{"t":7300,"v":500},{"t":7400,"v":460},{"t":7500,"v":485},{"t":7600,"v":450},{"t":7700,"v":475},{"t":7800,"v":495},{"t":7900,"v":455},{"t":8000,"v":480},{"t":8100,"v":440},{"t":8200,"v":470},{"t":8300,"v":490},{"t":8400,"v":450},{"t":8500,"v":475},{"t":8600,"v":440},{"t":8700,"v":465},{"t":8800,"v":500},{"t":8900,"v":455},{"t":9000,"v":480},{"t":9100,"v":445},{"t":9200,"v":470},{"t":9300,"v":430},{"t":9400,"v":465},{"t":9500,"v":520},{"t":9600,"v":455},{"t":9700,"v":480},{"t":9800,"v":440},{"t":9900,"v":470},{"t":10000,"v":455},
{"t":50,"v":470},{"t":150,"v":455},{"t":250,"v":490},{"t":350,"v":440},{"t":450,"v":465},{"t":550,"v":500},{"t":650,"v":445},{"t":750,"v":480},{"t":850,"v":435},{"t":950,"v":470},{"t":1050,"v":505},{"t":1150,"v":455},{"t":1250,"v":480},{"t":1350,"v":440},{"t":1450,"v":470},{"t":1550,"v":495},{"t":1650,"v":430},{"t":1750,"v":475},{"t":1850,"v":505},{"t":1950,"v":460},{"t":2050,"v":485},{"t":2150,"v":440},{"t":2250,"v":470},{"t":2350,"v":500},{"t":2450,"v":455},{"t":2550,"v":480},{"t":2650,"v":445},{"t":2750,"v":475},{"t":2850,"v":490},{"t":2950,"v":460},{"t":3050,"v":450},{"t":3150,"v":500},{"t":3250,"v":465},{"t":3350,"v":485},{"t":3450,"v":440},{"t":3550,"v":470},{"t":3650,"v":455},{"t":3750,"v":495},{"t":3850,"v":460},{"t":3950,"v":475},{"t":4050,"v":445},{"t":4150,"v":485},{"t":4250,"v":465},{"t":4350,"v":500},{"t":4450,"v":440},{"t":4550,"v":470},{"t":4650,"v":450},{"t":4750,"v":480},{"t":4850,"v":460},{"t":4950,"v":495},{"t":5050,"v":445},{"t":5150,"v":470},{"t":5250,"v":500},{"t":5350,"v":455},{"t":5450,"v":485},{"t":5550,"v":445},{"t":5650,"v":475},{"t":5750,"v":460},{"t":5850,"v":490},{"t":5950,"v":440},{"t":6050,"v":470},{"t":6150,"v":500},{"t":6250,"v":450},{"t":6350,"v":480},{"t":6450,"v":445},{"t":6550,"v":475},{"t":6650,"v":460},{"t":6750,"v":490},{"t":6850,"v":455},{"t":6950,"v":470},{"t":7050,"v":445},{"t":7150,"v":480},{"t":7250,"v":500},{"t":7350,"v":455},{"t":7450,"v":470},{"t":7550,"v":440},{"t":7650,"v":485},{"t":7750,"v":465},{"t":7850,"v":490},{"t":7950,"v":450},{"t":8050,"v":475},{"t":8150,"v":500},{"t":8250,"v":445},{"t":8350,"v":470},{"t":8450,"v":455},{"t":8550,"v":485},{"t":8650,"v":440},{"t":8750,"v":475},{"t":8850,"v":495},{"t":8950,"v":450},{"t":9050,"v":470},{"t":9150,"v":445},{"t":9250,"v":480},{"t":9350,"v":455},{"t":9450,"v":500},{"t":9550,"v":440},{"t":9650,"v":475},{"t":9750,"v":490},{"t":9850,"v":450},{"t":9950,"v":465}]
},
"spacing": 21,
"vconcat": [
{"spacing": 15, "hconcat": [
{"width": 299, "height": 187,
 "title": {"text": "(a) “Tail/ear”, c=0.1", "dx": -12, "offset": 18},
 "resolve": {"axis": {"x": "independent", "y": "independent"}},
 "layer": [
  {"data": {"name": "aS"}, "mark": {"type": "line", "color": "#5E81B5", "strokeWidth": 2.8},
   "encoding": {
    "x": {"field": "t", "type": "quantitative", "scale": {"domain": [-140, 10170], "nice": false, "zero": false}, "axis": {"orient": "top", "values": [0,500,1000,1500,2000,2500,3000,3500,4000,4500,5000,5500,6000,6500,7000,7500,8000,8500,9000,9500,10000], "labels": false, "title": null}},
    "y": {"field": "v", "type": "quantitative", "scale": {"domain": [-70, 4015], "nice": false, "zero": false}, "axis": {"orient": "right", "values": [0,200,400,600,800,1000,1200,1400,1600,1800,2000,2200,2400,2600,2800,3000,3200,3400,3600,3800,4000], "tickSize": {"condition": {"test": "datum.value % 1000 === 0", "value": -5}, "value": -3}, "labels": false, "title": null}}}},
  {"data": {"name": "aD"}, "mark": {"type": "line", "color": "#E19C24", "strokeWidth": 2},
   "encoding": {
    "x": {"field": "t", "type": "quantitative", "scale": {"domain": [-140, 10170], "nice": false, "zero": false}, "axis": {"values": [0,500,1000,1500,2000,2500,3000,3500,4000,4500,5000,5500,6000,6500,7000,7500,8000,8500,9000,9500,10000], "labelExpr": "datum.value % 2000 === 0 ? (datum.value === 10000 ? '10 000' : datum.label) : ''", "title": "Time steps x 10²", "titleX": 171, "titleY": 27, "titleBaseline": "middle", "titleAlign": "center"}},
    "y": {"field": "v", "type": "quantitative", "scale": {"domain": [-70, 4015], "nice": false, "zero": false}, "axis": {"values": [0,200,400,600,800,1000,1200,1400,1600,1800,2000,2200,2400,2600,2800,3000,3200,3400,3600,3800,4000], "tickSize": {"condition": {"test": "datum.value % 1000 === 0", "value": -5}, "value": -3}, "labelExpr": "datum.value % 1000 === 0 ? datum.label : ''", "title": "Cell number", "titleX": -38, "titleY": 74, "titleBaseline": "middle", "titleAlign": "center"}}}},
  {"data": {"values": [{"t0": 0, "t1": 10000, "v": 3140}]}, "mark": {"type": "rule", "color": "#E8AC48", "strokeWidth": 1.4},
   "encoding": {"x": {"field": "t0", "type": "quantitative", "axis": null}, "x2": {"field": "t1"}, "y": {"field": "v", "type": "quantitative", "axis": null}}},
  {"data": {"values": [{"t": 5930, "v": 2637, "lab": "Diff. cells"}, {"t": 6480, "v": 1087, "lab": "SCs"}]}, "mark": {"type": "text", "font": "Lato", "fontSize": 16.5, "color": "#000"},
   "encoding": {"x": {"field": "t", "type": "quantitative", "axis": null}, "y": {"field": "v", "type": "quantitative", "axis": null}, "text": {"field": "lab"}}}
 ]},
{"width": 293, "height": 187,
 "title": {"text": "(b) “Tail/ear”, c=1", "dx": -19, "offset": 18},
 "resolve": {"axis": {"x": "independent", "y": "independent"}},
 "layer": [
  {"data": {"name": "bS"}, "mark": {"type": "line", "color": "#5E81B5", "strokeWidth": 2.4},
   "encoding": {
    "x": {"field": "t", "type": "quantitative", "scale": {"domain": [-176, 10141], "nice": false, "zero": false}, "axis": {"orient": "top", "values": [0,500,1000,1500,2000,2500,3000,3500,4000,4500,5000,5500,6000,6500,7000,7500,8000,8500,9000,9500,10000], "labels": false, "title": null}},
    "y": {"field": "v", "type": "quantitative", "scale": {"domain": [-56, 2037], "nice": false, "zero": false}, "axis": {"orient": "right", "values": [0,100,200,300,400,500,600,700,800,900,1000,1100,1200,1300,1400,1500,1600,1700,1800,1900,2000], "tickSize": {"condition": {"test": "datum.value % 500 === 0", "value": -5}, "value": -3}, "labels": false, "title": null}}}},
  {"data": {"name": "bD"}, "mark": {"type": "line", "color": "#E19C24", "strokeWidth": 1.8},
   "encoding": {
    "x": {"field": "t", "type": "quantitative", "scale": {"domain": [-176, 10141], "nice": false, "zero": false}, "axis": {"values": [0,500,1000,1500,2000,2500,3000,3500,4000,4500,5000,5500,6000,6500,7000,7500,8000,8500,9000,9500,10000], "labelExpr": "datum.value % 2000 === 0 ? (datum.value === 10000 ? '10 000' : datum.label) : ''", "title": "Time steps x 10²", "titleX": 168, "titleY": 27, "titleBaseline": "middle", "titleAlign": "center"}},
    "y": {"field": "v", "type": "quantitative", "scale": {"domain": [-56, 2037], "nice": false, "zero": false}, "axis": {"values": [0,100,200,300,400,500,600,700,800,900,1000,1100,1200,1300,1400,1500,1600,1700,1800,1900,2000], "tickSize": {"condition": {"test": "datum.value % 500 === 0", "value": -5}, "value": -3}, "labelExpr": "datum.value % 500 === 0 ? datum.label : ''", "title": "Cell number", "titleX": -36, "titleY": 70, "titleBaseline": "middle", "titleAlign": "center"}}}},
  {"data": {"values": [{"t0": 0, "t1": 10000, "v": 1462}]}, "mark": {"type": "rule", "color": "#E8AC48", "strokeWidth": 1.4},
   "encoding": {"x": {"field": "t0", "type": "quantitative", "axis": null}, "x2": {"field": "t1"}, "y": {"field": "v", "type": "quantitative", "axis": null}}},
  {"data": {"values": [{"t": 4250, "v": 1372, "lab": "Diff. cells"}, {"t": 2710, "v": 459, "lab": "SCs"}]}, "mark": {"type": "text", "font": "Lato", "fontSize": 16.5, "color": "#000"},
   "encoding": {"x": {"field": "t", "type": "quantitative", "axis": null}, "y": {"field": "v", "type": "quantitative", "axis": null}, "text": {"field": "lab"}}}
 ]}
]},
{"spacing": 15, "hconcat": [
{"width": 301, "height": 186,
 "title": {"text": "(c) “Footpad”, c=0.1", "dx": -18, "offset": 19},
 "resolve": {"axis": {"x": "independent", "y": "independent"}},
 "layer": [
  {"data": {"name": "cS"}, "mark": {"type": "line", "color": "#5E81B5", "strokeWidth": 2.4},
   "encoding": {
    "x": {"field": "t", "type": "quantitative", "scale": {"domain": [-197, 10218], "nice": false, "zero": false}, "axis": {"orient": "top", "values": [0,500,1000,1500,2000,2500,3000,3500,4000,4500,5000,5500,6000,6500,7000,7500,8000,8500,9000,9500,10000], "labels": false, "title": null}},
    "y": {"field": "v", "type": "quantitative", "scale": {"domain": [-24, 1339], "nice": false, "zero": false}, "axis": {"orient": "right", "values": [0,100,200,300,400,500,600,700,800,900,1000,1100,1200,1300], "tickSize": {"condition": {"test": "datum.value % 200 === 0", "value": -5}, "value": -3}, "labels": false, "title": null}}}},
  {"data": {"values": [{"t0": 0, "t1": 10000, "v": 461}]}, "mark": {"type": "rule", "color": "#7E9AC4", "strokeWidth": 1.4},
   "encoding": {"x": {"field": "t0", "type": "quantitative", "axis": null}, "x2": {"field": "t1"}, "y": {"field": "v", "type": "quantitative", "axis": null}}},
  {"data": {"name": "cD"}, "mark": {"type": "line", "color": "#E19C24", "strokeWidth": 1.9},
   "encoding": {
    "x": {"field": "t", "type": "quantitative", "scale": {"domain": [-197, 10218], "nice": false, "zero": false}, "axis": {"values": [0,500,1000,1500,2000,2500,3000,3500,4000,4500,5000,5500,6000,6500,7000,7500,8000,8500,9000,9500,10000], "labelExpr": "datum.value % 2000 === 0 ? (datum.value === 10000 ? '10 000' : datum.label) : ''", "title": "Time steps x 10²", "titleX": 164, "titleY": 27, "titleBaseline": "middle", "titleAlign": "center"}},
    "y": {"field": "v", "type": "quantitative", "scale": {"domain": [-24, 1339], "nice": false, "zero": false}, "axis": {"values": [0,100,200,300,400,500,600,700,800,900,1000,1100,1200,1300], "tickSize": {"condition": {"test": "datum.value % 200 === 0", "value": -5}, "value": -3}, "labelExpr": "datum.value % 200 === 0 ? datum.label : ''", "title": "Cell number", "titleX": -37, "titleY": 94, "titleBaseline": "middle", "titleAlign": "center"}}}},
  {"data": {"values": [{"t0": 0, "t1": 10000, "v": 805}]}, "mark": {"type": "rule", "color": "#E8AC48", "strokeWidth": 1.4},
   "encoding": {"x": {"field": "t0", "type": "quantitative", "axis": null}, "x2": {"field": "t1"}, "y": {"field": "v", "type": "quantitative", "axis": null}}},
  {"data": {"values": [{"t": 3830, "v": 1200, "lab": "Diff. cells"}, {"t": 6830, "v": 262, "lab": "SCs"}]}, "mark": {"type": "text", "font": "Lato", "fontSize": 16.5, "color": "#000"},
   "encoding": {"x": {"field": "t", "type": "quantitative", "axis": null}, "y": {"field": "v", "type": "quantitative", "axis": null}, "text": {"field": "lab"}}}
 ]},
{"width": 300, "height": 186,
 "title": {"text": "(d) “Footpad”, c=1", "dx": -31, "offset": 19},
 "resolve": {"axis": {"x": "independent", "y": "independent"}},
 "layer": [
  {"data": {"name": "dS"}, "mark": {"type": "line", "color": "#5E81B5", "strokeWidth": 2.4},
   "encoding": {
    "x": {"field": "t", "type": "quantitative", "scale": {"domain": [-138, 10232], "nice": false, "zero": false}, "axis": {"orient": "top", "values": [0,500,1000,1500,2000,2500,3000,3500,4000,4500,5000,5500,6000,6500,7000,7500,8000,8500,9000,9500,10000], "labels": false, "title": null}},
    "y": {"field": "v", "type": "quantitative", "scale": {"domain": [-22, 1211], "nice": false, "zero": false}, "axis": {"orient": "right", "values": [0,100,200,300,400,500,600,700,800,900,1000,1100,1200], "tickSize": {"condition": {"test": "datum.value % 200 === 0", "value": -5}, "value": -3}, "labels": false, "title": null}}}},
  {"data": {"name": "dD"}, "mark": {"type": "line", "color": "#E19C24", "strokeWidth": 1.8},
   "encoding": {
    "x": {"field": "t", "type": "quantitative", "scale": {"domain": [-138, 10232], "nice": false, "zero": false}, "axis": {"values": [0,500,1000,1500,2000,2500,3000,3500,4000,4500,5000,5500,6000,6500,7000,7500,8000,8500,9000,9500,10000], "labelExpr": "datum.value % 2000 === 0 ? (datum.value === 10000 ? '10 000' : datum.label) : ''", "title": "Time steps x 10²", "titleX": 165, "titleY": 27, "titleBaseline": "middle", "titleAlign": "center"}},
    "y": {"field": "v", "type": "quantitative", "scale": {"domain": [-22, 1211], "nice": false, "zero": false}, "axis": {"values": [0,100,200,300,400,500,600,700,800,900,1000,1100,1200], "tickSize": {"condition": {"test": "datum.value % 200 === 0", "value": -5}, "value": -3}, "labelExpr": "datum.value % 200 === 0 ? datum.label : ''", "title": "Cell number", "titleX": -35, "titleY": 91, "titleBaseline": "middle", "titleAlign": "center"}}}},
  {"data": {"values": [{"t0": 0, "t1": 10000, "v": 790}]}, "mark": {"type": "rule", "color": "#E8AC48", "strokeWidth": 1.4},
   "encoding": {"x": {"field": "t0", "type": "quantitative", "axis": null}, "x2": {"field": "t1"}, "y": {"field": "v", "type": "quantitative", "axis": null}}},
  {"data": {"values": [{"t": 5550, "v": 1042, "lab": "Diff. cells"}, {"t": 4540, "v": 159, "lab": "SCs"}]}, "mark": {"type": "text", "font": "Lato", "fontSize": 16.5, "color": "#000"},
   "encoding": {"x": {"field": "t", "type": "quantitative", "axis": null}, "y": {"field": "v", "type": "quantitative", "axis": null}, "text": {"field": "lab"}}}
 ]}
]}
]
}
